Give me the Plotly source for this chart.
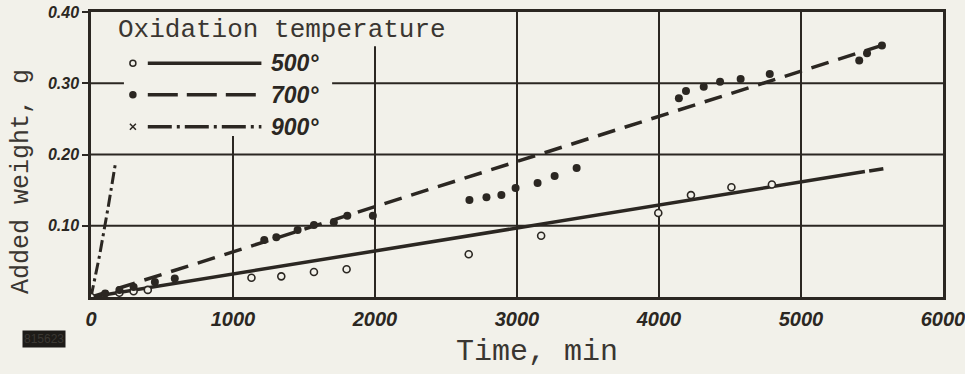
import plotly.graph_objects as go

# ---------------- data ----------------
t500 = [0, 200, 300, 400, 1130, 1340, 1570, 1800, 2660, 3170, 3995, 4225, 4510, 4795]
w500 = [0, 0.006, 0.008, 0.010, 0.027, 0.029, 0.035, 0.039, 0.060, 0.086, 0.118, 0.143, 0.154, 0.158]

t700 = [100, 200, 300, 450, 590, 1220, 1305, 1455, 1570, 1710, 1805, 1985,
        2665, 2785, 2890, 2990, 3145, 3265, 3420,
        4140, 4190, 4315, 4430, 4575, 4780, 5410, 5465, 5570]
w700 = [0.005, 0.010, 0.014, 0.021, 0.026, 0.080, 0.084, 0.094, 0.101, 0.105, 0.114, 0.114,
        0.136, 0.140, 0.143, 0.153, 0.160, 0.170, 0.181,
        0.279, 0.289, 0.295, 0.302, 0.306, 0.313, 0.332, 0.342, 0.353]

fit500_t = [0, 5450]
fit500_w = [0, 0.176]
fit500_tail_t = [5480, 5580]
fit500_tail_w = [0.1768, 0.180]

fit700_t = [0, 5600]
fit700_w = [0, 0.355]

fit900_t = [0, 60, 120, 170]
fit900_w = [0, 0.058, 0.125, 0.185]

x_ticks = [0, 1000, 2000, 3000, 4000, 5000, 6000]
x_labels = ["0", "1000", "2000", "3000", "4000", "5000", "6000"]
y_ticks = [0.10, 0.20, 0.30, 0.40]
y_labels = ["0.10", "0.20", "0.30", "0.40"]

legend_title = "Oxidation temperature"
legend_labels = ["500°", "700°", "900°"]

# ---------------- style ----------------
PAPER = "#f2f1ea"
INK = "#2b2722"
TXT = "#3a3631"
MONO = "Courier New, Liberation Mono, monospace"
HAND = "Liberation Sans Narrow, Liberation Sans, Arial, sans-serif"

W, H = 965, 374
L, R, T, B = 91, 22, 12, 77
pw, ph = W - L - R, H - T - B


def px(xp):
    return (xp - L) / pw


def py(yp):
    return 1 - (yp - T) / ph


fig = go.Figure()

# grid drawn as shapes (broken behind the legend box, as in the original)
grid_segments = [
    ("v", 1000, 0, 0.226), ("v", 2000, 0, 0.352), ("v", 3000, 0, 0.4),
    ("v", 4000, 0, 0.4), ("v", 5000, 0, 0.4),
    ("h", 0.10, 0, 6000), ("h", 0.20, 0, 6000),
    ("h", 0.30, 0, 232), ("h", 0.30, 1698, 6000),
]
for kind, c, a, b in grid_segments:
    if kind == "v":
        fig.add_shape(type="line", xref="x", yref="y", x0=c, x1=c, y0=a, y1=b,
                      line=dict(color=INK, width=2), layer="below")
    else:
        fig.add_shape(type="line", xref="x", yref="y", x0=a, x1=b, y0=c, y1=c,
                      line=dict(color=INK, width=2), layer="below")

fig.add_trace(go.Scatter(x=fit500_t, y=fit500_w, mode="lines",
                         line=dict(color=INK, width=3.5), showlegend=False))
fig.add_trace(go.Scatter(x=fit500_tail_t, y=fit500_tail_w, mode="lines",
                         line=dict(color=INK, width=3.5), showlegend=False))
fig.add_trace(go.Scatter(x=fit700_t, y=fit700_w, mode="lines",
                         line=dict(color=INK, width=3.5, dash="18px,10px"), showlegend=False))
fig.add_trace(go.Scatter(x=fit900_t, y=fit900_w, mode="lines",
                         line=dict(color=INK, width=3, dash="12px,4px,3px,4px"), showlegend=False))
fig.add_trace(go.Scatter(x=t500, y=w500, mode="markers",
                         marker=dict(symbol="circle", size=7, color=PAPER,
                                     line=dict(width=1.6, color=INK)),
                         showlegend=False))
fig.add_trace(go.Scatter(x=t700, y=w700, mode="markers",
                         marker=dict(symbol="circle", size=8, color=INK),
                         showlegend=False))

# custom legend
fig.add_annotation(x=px(116), y=py(30), xref="paper", yref="paper", xanchor="left",
                   yanchor="middle", text=legend_title, showarrow=False,
                   font=dict(family=MONO, size=26, color=TXT))
leg_rows_y = [0.328, 0.284, 0.239]
leg_dash = ["solid", "30px,9px", "24px,5px,3px,5px"]
leg_sym = ["circle", "circle", "x-thin-open"]
leg_fill = [PAPER, INK, INK]
for i in range(3):
    fig.add_trace(go.Scatter(x=[295], y=[leg_rows_y[i]], mode="markers",
                             marker=dict(symbol=leg_sym[i], size=6,
                                         color=leg_fill[i], line=dict(width=1.5, color=INK)),
                             showlegend=False, cliponaxis=False))
    fig.add_shape(type="line", xref="x", yref="y", x0=400, x1=1200,
                  y0=leg_rows_y[i], y1=leg_rows_y[i],
                  line=dict(color=INK, width=3.5, dash=leg_dash[i]), layer="below")
    fig.add_annotation(x=1250, y=leg_rows_y[i], xref="x", yref="y", xanchor="left",
                       yanchor="middle", text=legend_labels[i], showarrow=False,
                       font=dict(family=HAND, size=23, color=INK, weight="bold", style="italic"))

# axis titles as annotations
fig.add_annotation(x=px(21), y=py(182), xref="paper", yref="paper", text="Added weight, g",
                   textangle=-90, showarrow=False, xanchor="center", yanchor="middle",
                   font=dict(family=MONO, size=25, color=TXT))
fig.add_annotation(x=px(537), y=py(352), xref="paper", yref="paper", text="Time, min",
                   showarrow=False, xanchor="center", yanchor="middle",
                   font=dict(family=MONO, size=30, color=TXT))
# archive stamp
fig.add_annotation(x=px(44), y=py(339), xref="paper", yref="paper", text="815623",
                   showarrow=False, bgcolor="#1d1b18", xanchor="center", yanchor="middle",
                   font=dict(family=HAND, size=12, color="#3b3833"))

fig.update_xaxes(range=[0, 6000], tickvals=x_ticks, ticktext=x_labels,
                 showgrid=False, showline=True, linecolor=INK, linewidth=2.5, mirror=True,
                 zeroline=False, ticks="", ticklabelstandoff=2, ticklabeloverflow="allow",
                 tickfont=dict(family=HAND, size=20, color=INK, weight="bold", style="italic"))
fig.update_yaxes(range=[0, 0.40], tickvals=y_ticks, ticktext=y_labels,
                 showgrid=False, showline=True, linecolor=INK, linewidth=2.5, mirror=True,
                 zeroline=False, ticks="outside", ticklen=6, tickcolor=INK, tickwidth=2,
                 tickfont=dict(family=HAND, size=16, color=INK, weight="bold", style="italic"))

fig.update_layout(width=W, height=H, margin=dict(l=L, r=R, t=T, b=B, autoexpand=False),
                  paper_bgcolor=PAPER, plot_bgcolor=PAPER, showlegend=False)

fig.write_html("out.html", config={"displayModeBar": False},
               post_script="document.body.style.margin='0';document.body.style.background='%s';" % PAPER)
